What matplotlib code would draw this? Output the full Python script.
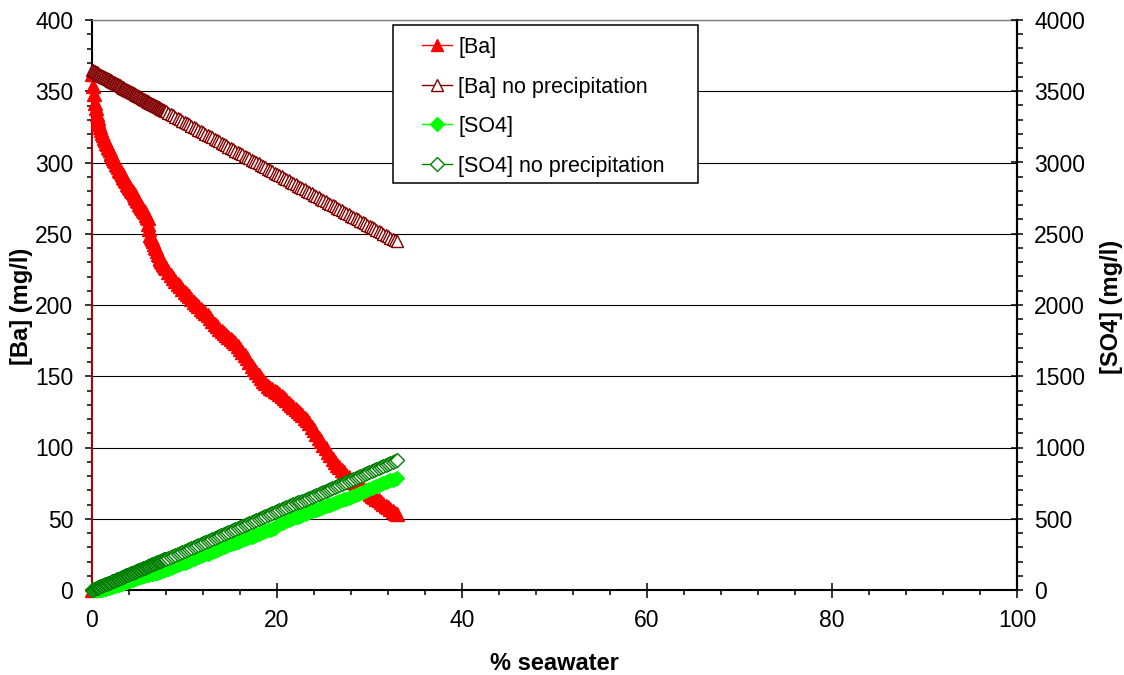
import matplotlib
matplotlib.use("Agg")
import matplotlib.pyplot as plt
from matplotlib.ticker import MultipleLocator
from matplotlib.lines import Line2D
from matplotlib.patches import Rectangle

plt.rcParams['font.family'] = ['Liberation Sans', 'DejaVu Sans']

# % seawater sample points (shared by all series)
pct = [0.0, 0.1, 0.2, 0.3, 0.4, 0.5, 0.6, 0.7, 0.8, 0.9,
       1.0, 1.1, 1.2, 1.3, 1.4, 1.5, 1.6, 1.7, 1.8, 1.9,
       2.0, 2.1, 2.2, 2.3, 2.4, 2.5, 2.6, 2.7, 2.8, 2.9,
       3.0, 3.1, 3.2, 3.3, 3.4, 3.5, 3.6, 3.7, 3.8, 3.9,
       4.0, 4.1, 4.2, 4.3, 4.4, 4.5, 4.6, 4.7, 4.8, 4.9,
       5.0, 5.1, 5.2, 5.3, 5.4, 5.5, 5.6, 5.7, 5.8, 5.9,
       6.0, 6.1, 6.2, 6.3, 6.4, 6.5, 6.6, 6.7, 6.8, 6.9,
       7.0, 7.1, 7.2, 7.3, 7.4, 7.5, 7.6, 7.7, 7.8, 7.9,
       8.0, 8.25, 8.5, 8.75, 9.0, 9.25, 9.5, 9.75, 10.0, 10.25,
       10.5, 10.75, 11.0, 11.25, 11.5, 11.75, 12.0, 12.25, 12.5, 12.75,
       13.0, 13.25, 13.5, 13.75, 14.0, 14.25, 14.5, 14.75, 15.0, 15.25,
       15.5, 15.75, 16.0, 16.25, 16.5, 16.75, 17.0, 17.25, 17.5, 17.75,
       18.0, 18.25, 18.5, 18.75, 19.0, 19.25, 19.5, 19.75, 20.0, 20.25,
       20.5, 20.75, 21.0, 21.25, 21.5, 21.75, 22.0, 22.25, 22.5, 22.75,
       23.0, 23.25, 23.5, 23.75, 24.0, 24.25, 24.5, 24.75, 25.0, 25.25,
       25.5, 25.75, 26.0, 26.25, 26.5, 26.75, 27.0, 27.25, 27.5, 27.75,
       28.0, 28.25, 28.5, 28.75, 29.0, 29.25, 29.5, 29.75, 30.0, 30.25,
       30.5, 30.75, 31.0, 31.25, 31.5, 31.75, 32.0, 32.25, 32.5, 32.75, 33.0]

# [Ba] with precipitation (mg/l), left axis; the series begins with a (0, 0) point
ba_pct = [0.0] + pct
ba = [0,
      362, 354, 348, 342, 338, 334, 331, 329, 327, 325,
      323, 321, 319, 317, 316, 314, 313, 311, 310, 309,
      307, 306, 305, 303, 302, 301, 299, 298, 297, 295,
      294, 293, 292, 291, 290, 289, 288, 287, 285, 284,
      283, 282, 281, 280, 279, 278, 277, 276, 275, 274,
      273, 271, 270, 269, 268, 267, 266, 265, 263, 262,
      261, 257, 253, 249, 248, 246, 245, 243, 241, 240,
      238, 236, 235, 233, 232, 231, 230, 229, 228, 227,
      226, 223.5, 221, 219, 217, 215, 213, 211, 209, 207.5,
      206, 204, 202, 200.5, 199, 197.5, 196, 194.5, 193, 191,
      189, 187, 185, 183.5, 182, 180.5, 179, 177.5, 176, 174.5,
      173, 171, 169, 167, 165, 162.5, 160, 157.5, 155, 153,
      151, 149, 147, 145, 143, 142, 141, 140, 139, 137.5,
      136, 134.5, 133, 131.5, 130, 128.5, 127, 125.5, 124, 122.5,
      121, 119, 117, 114.5, 112, 109.5, 107, 104.5, 102, 99.5,
      97, 94.5, 92, 90, 88, 86, 84, 82.5, 81, 79,
      77.5, 76, 75, 74, 72.5, 71, 70, 69, 67.5, 66,
      65, 64, 63, 62, 60.5, 59, 58, 57, 55.5, 54, 53]

# [Ba] without precipitation (mg/l), left axis
ba_noprecip = [365.0, 364.6, 364.3, 363.9, 363.5, 363.2, 362.8, 362.4, 362.1, 361.7,
               361.4, 361.0, 360.6, 360.3, 359.9, 359.5, 359.2, 358.8, 358.4, 358.1,
               357.7, 357.3, 357.0, 356.6, 356.2, 355.9, 355.5, 355.1, 354.8, 354.4,
               354.1, 353.7, 353.3, 353.0, 352.6, 352.2, 351.9, 351.5, 351.1, 350.8,
               350.4, 350.0, 349.7, 349.3, 348.9, 348.6, 348.2, 347.8, 347.5, 347.1,
               346.8, 346.4, 346.0, 345.7, 345.3, 344.9, 344.6, 344.2, 343.8, 343.5,
               343.1, 342.7, 342.4, 342.0, 341.6, 341.3, 340.9, 340.5, 340.2, 339.8,
               339.5, 339.1, 338.7, 338.4, 338.0, 337.6, 337.3, 336.9, 336.5, 336.2,
               335.8, 334.9, 334.0, 333.1, 332.2, 331.2, 330.3, 329.4, 328.5, 327.6,
               326.7, 325.8, 324.9, 323.9, 323.0, 322.1, 321.2, 320.3, 319.4, 318.5,
               317.6, 316.6, 315.7, 314.8, 313.9, 313.0, 312.1, 311.2, 310.3, 309.3,
               308.4, 307.5, 306.6, 305.7, 304.8, 303.9, 303.0, 302.0, 301.1, 300.2,
               299.3, 298.4, 297.5, 296.6, 295.7, 294.7, 293.8, 292.9, 292.0, 291.1,
               290.2, 289.3, 288.4, 287.4, 286.5, 285.6, 284.7, 283.8, 282.9, 282.0,
               281.1, 280.1, 279.2, 278.3, 277.4, 276.5, 275.6, 274.7, 273.8, 272.8,
               271.9, 271.0, 270.1, 269.2, 268.3, 267.4, 266.5, 265.5, 264.6, 263.7,
               262.8, 261.9, 261.0, 260.1, 259.2, 258.2, 257.3, 256.4, 255.5, 254.6,
               253.7, 252.8, 251.9, 250.9, 250.0, 249.1, 248.2, 247.3, 246.4, 245.5, 244.6]

# [SO4] with precipitation (mg/l), right axis
so4 = [0, 0, 0, 0, 0, 0, 0, 0, 0, 0,
       1, 2, 4, 6, 8, 10, 12, 13, 16, 18,
       20, 22, 24, 26, 28, 31, 32, 35, 37, 38,
       41, 43, 45, 48, 50, 52, 55, 57, 59, 61,
       63, 66, 68, 70, 73, 75, 77, 79, 82, 84,
       86, 88, 90, 93, 95, 97, 100, 102, 104, 106,
       108, 108, 109, 109, 111, 113, 115, 117, 118, 121,
       122, 124, 126, 128, 130, 132, 135, 137, 139, 142,
       144, 150, 156, 162, 167, 174, 180, 186, 192, 199,
       205, 211, 218, 224, 230, 237, 243, 250, 256, 263,
       269, 275, 281, 288, 294, 301, 307, 314, 320, 327,
       333, 339, 345, 351, 358, 363, 369, 375, 381, 387,
       393, 399, 405, 411, 418, 424, 431, 438, 457, 463,
       470, 476, 483, 489, 495, 502, 509, 515, 522, 528,
       535, 541, 547, 553, 558, 564, 570, 576, 582, 588,
       594, 599, 605, 611, 617, 623, 629, 636, 642, 649,
       655, 662, 669, 675, 681, 688, 695, 702, 708, 715,
       722, 729, 736, 742, 748, 755, 762, 769, 775, 782, 789]

# [SO4] without precipitation (mg/l), right axis
so4_noprecip = [0.0, 2.8, 5.5, 8.3, 11.0, 13.8, 16.6, 19.3, 22.1, 24.8,
                27.6, 30.4, 33.1, 35.9, 38.6, 41.4, 44.2, 46.9, 49.7, 52.4,
                55.2, 58.0, 60.7, 63.5, 66.2, 69.0, 71.8, 74.5, 77.3, 80.0,
                82.8, 85.6, 88.3, 91.1, 93.8, 96.6, 99.4, 102.1, 104.9, 107.6,
                110.4, 113.2, 115.9, 118.7, 121.4, 124.2, 127.0, 129.7, 132.5, 135.2,
                138.0, 140.8, 143.5, 146.3, 149.0, 151.8, 154.6, 157.3, 160.1, 162.8,
                165.6, 168.4, 171.1, 173.9, 176.6, 179.4, 182.2, 184.9, 187.7, 190.4,
                193.2, 196.0, 198.7, 201.5, 204.2, 207.0, 209.8, 212.5, 215.3, 218.0,
                220.8, 227.7, 234.6, 241.5, 248.4, 255.3, 262.2, 269.1, 276.0, 282.9,
                289.8, 296.7, 303.6, 310.5, 317.4, 324.3, 331.2, 338.1, 345.0, 351.9,
                358.8, 365.7, 372.6, 379.5, 386.4, 393.3, 400.2, 407.1, 414.0, 420.9,
                427.8, 434.7, 441.6, 448.5, 455.4, 462.3, 469.2, 476.1, 483.0, 489.9,
                496.8, 503.7, 510.6, 517.5, 524.4, 531.3, 538.2, 545.1, 552.0, 558.9,
                565.8, 572.7, 579.6, 586.5, 593.4, 600.3, 607.2, 614.1, 621.0, 627.9,
                634.8, 641.7, 648.6, 655.5, 662.4, 669.3, 676.2, 683.1, 690.0, 696.9,
                703.8, 710.7, 717.6, 724.5, 731.4, 738.3, 745.2, 752.1, 759.0, 765.9,
                772.8, 779.7, 786.6, 793.5, 800.4, 807.3, 814.2, 821.1, 828.0, 834.9,
                841.8, 848.7, 855.6, 862.5, 869.4, 876.3, 883.2, 890.1, 897.0, 903.9, 910.8]

labels = ['[Ba]', '[Ba] no precipitation', '[SO4]', '[SO4] no precipitation']

RED = '#FF0000'
MAROON = '#800000'
LIME = '#00FF00'
DKGREEN = '#008000'
TRI_MS = 8.5
RED_MS = 10
DIA_MS = 6.8

W, H = 1124, 675
fig = plt.figure(figsize=(W / 100, H / 100), dpi=100)
ax = fig.add_axes([92 / W, 1 - 590 / H, (1017 - 92) / W, (590 - 20) / H])
ax2 = ax.twinx()

ax.plot(ba_pct, ba, color=RED, lw=1, marker='^', ms=RED_MS, mfc=RED, mec=RED, mew=1,
        zorder=3, clip_on=False)
ax.plot(pct, ba_noprecip, color=MAROON, lw=1, marker='^', ms=TRI_MS, mfc='white',
        mec=MAROON, mew=1, zorder=3, clip_on=False)
ax2.plot(pct, so4, color=LIME, lw=1, marker='D', ms=DIA_MS, mfc=LIME, mec=LIME, mew=1,
         zorder=3, clip_on=False)
ax2.plot(pct, so4_noprecip, color=DKGREEN, lw=1, marker='D', ms=DIA_MS, mfc='white',
         mec=DKGREEN, mew=1, zorder=3, clip_on=False)

ax.set_xlim(0, 100)
ax.set_ylim(0, 400)
ax2.set_ylim(0, 4000)

ax.xaxis.set_major_locator(MultipleLocator(20))
ax.xaxis.set_minor_locator(MultipleLocator(4))
ax.yaxis.set_major_locator(MultipleLocator(50))
ax.yaxis.set_minor_locator(MultipleLocator(10))
ax2.yaxis.set_major_locator(MultipleLocator(500))
ax2.yaxis.set_minor_locator(MultipleLocator(100))

ax.grid(axis='y', which='major', color='black', lw=0.8)
ax.set_axisbelow(True)

for s in ax.spines.values():
    s.set_linewidth(1.5)
    s.set_color('black')
ax.spines['top'].set_color('#808080')
ax.spines['top'].set_linewidth(1)
for side in ('left', 'top', 'bottom'):
    ax2.spines[side].set_visible(False)
ax2.spines['right'].set_linewidth(1.5)

ax.tick_params(axis='x', which='major', direction='inout', length=10.8, width=1.1,
               labelsize=16.5, pad=8)
ax.tick_params(axis='x', which='minor', direction='out', length=3.6, width=1.1)
ax.tick_params(axis='y', which='major', direction='out', length=5, width=1.1,
               labelsize=16.5, pad=8.5)
ax.tick_params(axis='y', which='minor', direction='out', length=3.6, width=1.1)
ax2.tick_params(axis='y', which='major', direction='inout', length=8.6, width=1.1,
                labelsize=16.5, pad=8)
ax2.tick_params(axis='y', which='minor', direction='out', length=4, width=1.1)

ax.set_xlabel('% seawater', fontsize=17, fontweight='bold')
ax.set_ylabel('[Ba] (mg/l)', fontsize=17, fontweight='bold')
ax2.set_ylabel('[SO4] (mg/l)', fontsize=17, fontweight='bold')
ax.xaxis.set_label_coords(0.5, (590 - 652) / 570)
ax.yaxis.set_label_coords((33 - 92) / 925, 0.497)
ax2.yaxis.set_label_coords((1100 - 92) / 925, 0.497)

# legend frame (Excel-style box) and entries
fig.patches.append(Rectangle((393 / W, 1 - 183 / H), (698 - 393) / W, (183 - 25) / H,
                             transform=fig.transFigure, facecolor='white',
                             edgecolor='black', lw=1.1, zorder=4))
handles = [
    Line2D([], [], color=RED, lw=1, marker='^', ms=TRI_MS, mfc=RED, mec=RED),
    Line2D([], [], color=MAROON, lw=1, marker='^', ms=TRI_MS, mfc='white', mec=MAROON),
    Line2D([], [], color=LIME, lw=1, marker='D', ms=DIA_MS, mfc=LIME, mec=LIME),
    Line2D([], [], color=DKGREEN, lw=1, marker='D', ms=DIA_MS, mfc='white', mec=DKGREEN),
]
leg = fig.legend(handles, labels, loc='upper left',
                 bbox_to_anchor=(422 / W, 1 - 37 / H), bbox_transform=fig.transFigure,
                 fontsize=15.5, frameon=False, handlelength=1.4, handletextpad=0.28,
                 labelspacing=0.86, borderpad=0, borderaxespad=0)
leg.set_zorder(5)

fig.savefig('out.png', dpi=100)
